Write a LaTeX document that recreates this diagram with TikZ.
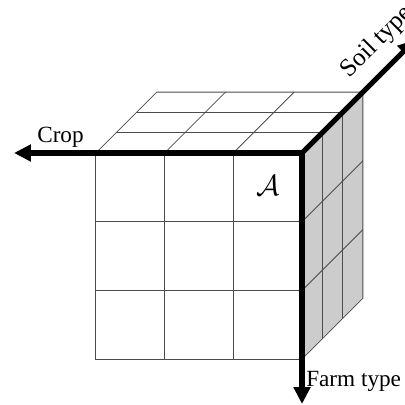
\documentclass[tikz,border=0pt]{standalone}
\usepackage{fontspec}
\setmainfont{Liberation Serif}
\usetikzlibrary{calc,arrows.meta}

\begin{document}
\begin{tikzpicture}[x=0.025cm, y=0.025cm,
    grid/.style={line width=.6pt, draw=black!70},
    axis/.style={line width=3.6pt, -{Triangle[length=12pt, width=11.5pt]}},
    lab/.style={inner sep=0pt, font=\fontsize{16.5}{18}\selectfont}]

    % パラメータの定義
    \pgfmathsetmacro{\cell}{68.7}
    \pgfmathsetmacro{\dep}{20.3}
    \pgfmathsetmacro{\side}{3*\cell}
    \pgfmathsetmacro{\Dep}{3*\dep}

    \useasboundingbox (0,0) rectangle (405,405);
    \clip (0,0) rectangle (405,405);

    % 点の定義
    \coordinate (O) at (302,252);
    \coordinate (L) at ($(O)+(-\side,0)$);
    \coordinate (F) at ($(O)+(0,-\side)$);
    \coordinate (LF) at ($(O)+(-\side,-\side)$);
    \coordinate (B) at ($(O)+(\Dep,\Dep)$);
    \coordinate (BL) at ($(L)+(\Dep,\Dep)$);
    \coordinate (BF) at ($(F)+(\Dep,\Dep)$);

    \coordinate (cropend) at (14,252);
    \coordinate (farmend) at (302,1);
    \coordinate (soilend) at ($(O)+(113,113)$);

    % 右側面
    \filldraw [grid, fill=gray!40] (O) -- (B) -- (BF) -- (F) -- cycle;
    \foreach \i in {1,2} {
        \draw [grid] ($(O)+(\i*\dep,\i*\dep)$) -- ++(0,-\side);
        \draw [grid] ($(O)+(0,-\i*\cell)$) -- ++(\Dep,\Dep);
    }

    % 上面
    \draw [grid] (L) -- (BL) -- (B);
    \foreach \i in {1,2} {
        \draw [grid] ($(L)+(\i*\cell,0)$) -- ++(\Dep,\Dep);
        \draw [grid] ($(L)+(\i*\dep,\i*\dep)$) -- ++(\side,0);
    }

    % 正面
    \draw [grid] (L) rectangle (F);
    \foreach \i in {1,2} {
        \draw [grid] ($(L)+(\i*\cell,0)$) -- ($(LF)+(\i*\cell,0)$);
        \draw [grid] ($(L)+(0,-\i*\cell)$) -- ($(O)+(0,-\i*\cell)$);
    }

    % 軸の描画
    \draw [axis] (O) -- (cropend);
    \draw [axis] (O) -- (farmend);
    \draw [axis] (O) -- (soilend);

    % ラベル
    \node [lab, anchor=base west] (crop) at (37,262) {Crop};
    \node [lab, anchor=base west] (farm) at (306,18) {Farm type};
    \node [lab, anchor=base west, rotate=45, font=\fontsize{18}{20}\selectfont] (soil) at (349,326) {Soil type};
    \node [font=\fontsize{22}{24}\selectfont] (A) at (268,219) {$\mathcal{A}$};

\end{tikzpicture}
\end{document}
